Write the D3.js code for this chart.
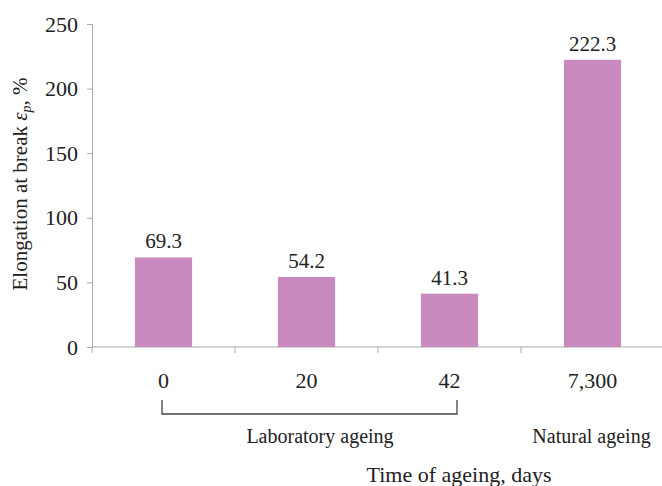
<!DOCTYPE html>
<html><head><meta charset="utf-8">
<script src="https://cdn.jsdelivr.net/npm/d3@7"></script>
<style>body{margin:0;background:#fff}svg{display:block}svg text{font-family:"Liberation Serif","DejaVu Serif",serif !important;fill:#222}</style>
</head><body><svg id="c" width="662" height="486" font-family="Liberation Serif"></svg>
<script>
const categories = ["0", "20", "42", "7,300"];
const values = [69.3, 54.2, 41.3, 222.3];
const valueLabels = ["69.3", "54.2", "41.3", "222.3"];
const yTicks = [0, 50, 100, 150, 200, 250];
const groups = [{label: "Laboratory ageing", from: 0, to: 2}, {label: "Natural ageing", from: 3, to: 3}];

const FONT = "Liberation Serif, DejaVu Serif, serif";
const svg = d3.select("#c");
const x = d3.scaleBand().domain(categories).range([92, 664]).paddingInner(0.6).paddingOuter(0.3);
const y = d3.scaleLinear().domain([0, 250]).range([347, 24]);
const axisColor = "#a8a8a8";

// y axis
const ya = svg.append("g").attr("transform", "translate(92,0)")
  .call(d3.axisLeft(y).tickValues(yTicks).tickSize(5).tickPadding(9));
ya.attr("font-family", FONT);
ya.select(".domain").attr("stroke", axisColor);
ya.selectAll(".tick line").attr("stroke", axisColor);
ya.selectAll(".tick text").attr("font-size", 22).attr("fill", "#222");

// x axis line + ticks at band boundaries
svg.append("line").attr("x1", 92).attr("x2", 662).attr("y1", y(0)).attr("y2", y(0)).attr("stroke", axisColor);
const step = x.step();
const x0 = x.range()[0];
for (let i = 0; i <= categories.length; i++) {
  const bx = x0 + i * step;
  svg.append("line").attr("x1", bx).attr("x2", bx).attr("y1", y(0)).attr("y2", y(0) + 6).attr("stroke", axisColor);
}

// bars
svg.selectAll("rect.bar").data(values).enter().append("rect")
  .attr("x", (d, i) => x(categories[i])).attr("width", x.bandwidth())
  .attr("y", d => y(d)).attr("height", d => y(0) - y(d)).attr("fill", "#c98bbf");

// value labels
svg.selectAll("text.val").data(values).enter().append("text")
  .attr("font-family", FONT)
  .attr("x", (d, i) => x(categories[i]) + x.bandwidth() / 2).attr("y", d => y(d) - 9)
  .attr("text-anchor", "middle").attr("font-size", 21).text((d, i) => valueLabels[i]);

// category labels
svg.selectAll("text.cat").data(categories).enter().append("text")
  .attr("font-family", FONT)
  .attr("x", d => x(d) + x.bandwidth() / 2).attr("y", 388)
  .attr("text-anchor", "middle").attr("font-size", 22).text(d => d);

// bracket for laboratory ageing
const g0 = groups[0];
const bx1 = x(categories[g0.from]) + x.bandwidth() / 2 - 1.5;
const bx2 = x(categories[g0.to]) + x.bandwidth() / 2 + 7.5;
svg.append("path").attr("d", `M${bx1},400V414H${bx2}V400`).attr("fill", "none").attr("stroke", "#444").attr("stroke-width", 1.3);

// group labels
svg.append("text").attr("font-family", FONT).attr("x", 320).attr("y", 443).attr("text-anchor", "middle").attr("font-size", 20).text(groups[0].label);
svg.append("text").attr("font-family", FONT).attr("x", x(categories[3]) + x.bandwidth() / 2 - 1).attr("y", 443).attr("text-anchor", "middle").attr("font-size", 20).text(groups[1].label);

// x axis title
svg.append("text").attr("font-family", FONT).attr("x", 459).attr("y", 482).attr("text-anchor", "middle").attr("font-size", 22).text("Time of ageing, days");

// y axis title
const yt = svg.append("text").attr("font-family", FONT).attr("transform", "translate(27,184) rotate(-90)").attr("text-anchor", "middle").attr("font-size", 21);
yt.append("tspan").text("Elongation at break ");
yt.append("tspan").attr("font-style", "italic").text("ε");
yt.append("tspan").attr("font-style", "italic").attr("font-size", 14).attr("dy", 4).text("p");
yt.append("tspan").attr("dy", -4).text(", %");
</script></body></html>
